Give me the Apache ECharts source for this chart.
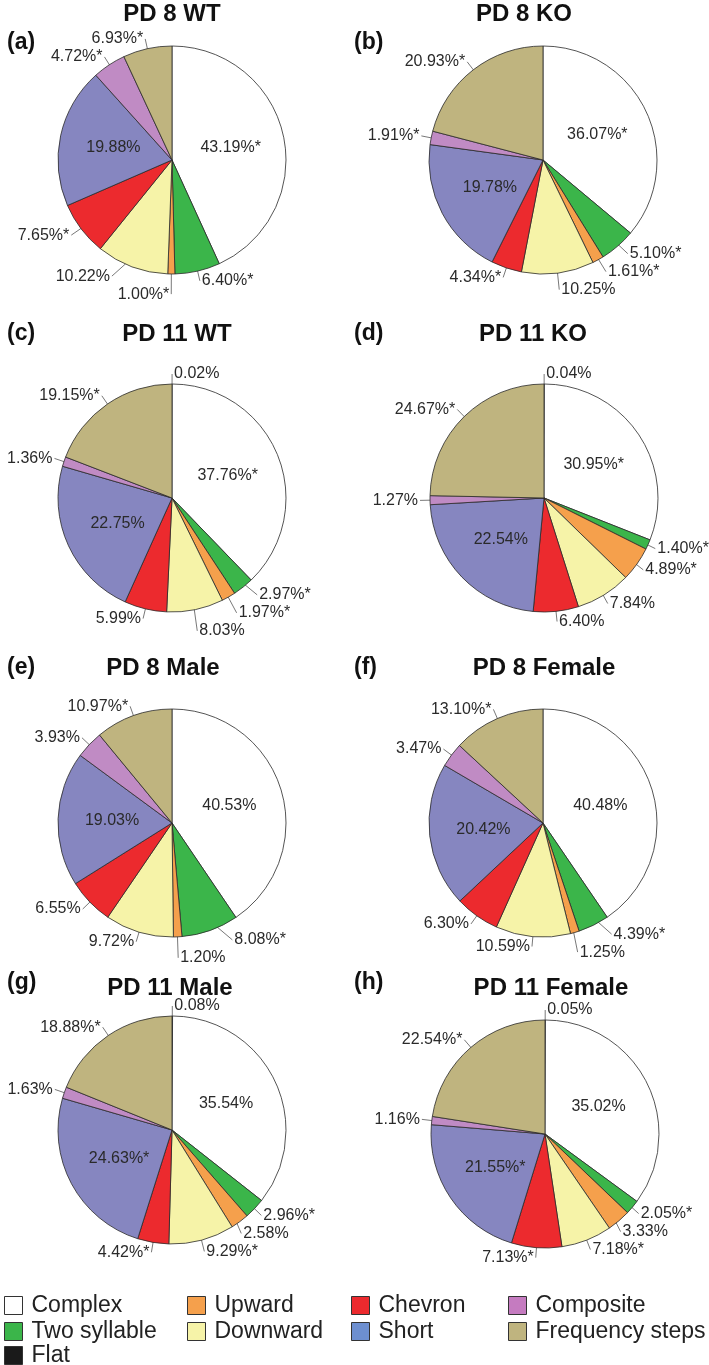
<!DOCTYPE html>
<html><head><meta charset="utf-8">
<script src="https://cdn.jsdelivr.net/npm/echarts@6/dist/echarts.min.js"></script>
<style>html,body{margin:0;padding:0;background:#fff}#c{width:709px;height:1365px}</style>
</head><body><div id="c"></div>
<script>
// ---------- DATA ----------
const categories = ['Complex','Two syllable','Upward','Downward','Chevron','Short','Composite','Frequency steps','Flat'];
const panelTitles = ['PD 8 WT','PD 8 KO','PD 11 WT','PD 11 KO','PD 8 Male','PD 8 Female','PD 11 Male','PD 11 Female'];
const panelLetters = ['(a)','(b)','(c)','(d)','(e)','(f)','(g)','(h)'];

const valuesA = [43.19, 6.40, 1.00, 10.22, 7.65, 19.88, 4.72, 6.93, null];
const valuesB = [36.07, 5.10, 1.61, 10.25, 4.34, 19.78, 1.91, 20.93, null];
const valuesC = [37.76, 2.97, 1.97, 8.03, 5.99, 22.75, 1.36, 19.15, 0.02];
const valuesD = [30.95, 1.40, 4.89, 7.84, 6.40, 22.54, 1.27, 24.67, 0.04];
const valuesE = [40.53, 8.08, 1.20, 9.72, 6.55, 19.03, 3.93, 10.97, null];
const valuesF = [40.48, 4.39, 1.25, 10.59, 6.30, 20.42, 3.47, 13.10, null];
const valuesG = [35.54, 2.96, 2.58, 9.29, 4.42, 24.63, 1.63, 18.88, 0.08];
const valuesH = [35.02, 2.05, 3.33, 7.18, 7.13, 21.55, 1.16, 22.54, 0.05];

// significance marks (*)
const starsA = [1,1,1,0,1,0,1,1,0];
const starsB = [1,1,1,0,1,0,1,1,0];
const starsC = [1,1,1,0,0,0,0,1,0];
const starsD = [1,1,1,0,0,0,0,1,0];
const starsE = [0,1,0,0,0,0,0,1,0];
const starsF = [0,1,0,0,0,0,0,1,0];
const starsG = [0,1,0,1,1,1,0,1,0];
const starsH = [0,1,0,1,1,1,0,1,0];

const allValues = [valuesA,valuesB,valuesC,valuesD,valuesE,valuesF,valuesG,valuesH];
const allStars = [starsA,starsB,starsC,starsD,starsE,starsF,starsG,starsH];

// ---------- STYLE / LAYOUT ----------
const COLORS = ['#ffffff','#3bb54a','#f5a04c','#f6f3a8','#ec2a2e','#8686c0','#c08bc4','#bfb47f','#1a1a1a'];
const LEGEND_COLORS = ['#ffffff','#3bb54a','#f5a04c','#f6f3a8','#ec2a2e','#6d8fd0','#c57bc0','#bfb47f','#1a1a1a'];
const DRAW_ORDER = [8,0,1,2,3,4,5,6,7]; // the hair-thin Flat wedge sits at 12 o'clock
const INSIDE = [0,5];
const FONT = 'Liberation Sans, Arial, Helvetica, sans-serif';
const R = 114, R_IN = 100;
const LAYOUT = [
  {cx:172, cy:160, tx:172, ty:14, lx:7,   ly:43},
  {cx:543, cy:160, tx:524, ty:14, lx:354, ly:43},
  {cx:172, cy:498, tx:177, ty:334, lx:7,  ly:334},
  {cx:544, cy:498, tx:533, ty:334, lx:354, ly:334},
  {cx:172, cy:823, tx:163, ty:668, lx:7,  ly:668},
  {cx:543, cy:823, tx:544, ty:668, lx:354, ly:668},
  {cx:172, cy:1130, tx:170, ty:988, lx:7,  ly:983},
  {cx:545, cy:1134, tx:551, ty:988, lx:354, ly:983}
];

const series = [];
const graphics = [];
allValues.forEach((vals, i) => {
  const L = LAYOUT[i];
  const stars = allStars[i];
  const main = [], over = [];
  DRAW_ORDER.forEach(k => {
    const v = vals[k];
    if (v == null) return;
    const c = categories[k];
    const txt = v.toFixed(2) + '%' + (stars[k] ? '*' : '');
    const inside = INSIDE.includes(k);
    main.push({name: c, value: v, itemStyle: {color: COLORS[k]}, label: {show: inside, formatter: txt}});
    over.push({name: c, value: v, label: {show: !inside, formatter: txt}, labelLine: {show: !inside}});
  });
  series.push({
    type: 'pie', center: [L.cx, L.cy], radius: R, startAngle: 90, clockwise: true,
    data: main, silent: true, animation: false, emphasis: {disabled: true},
    itemStyle: {borderColor: '#2a2a2a', borderWidth: 0.8},
    label: {position: 'inside', color: '#2a2a2a', fontSize: 16, fontFamily: FONT},
    labelLine: {show: false}
  });
  series.push({
    type: 'pie', center: [L.cx, L.cy], radius: R_IN, startAngle: 90, clockwise: true,
    data: over, silent: true, animation: false, emphasis: {disabled: true},
    itemStyle: {color: 'rgba(0,0,0,0)', borderWidth: 0},
    label: {position: 'outside', color: '#2a2a2a', fontSize: 16, fontFamily: FONT,
            distanceToLabelLine: 2, overflow: 'none', edgeDistance: 0},
    labelLine: {length: 24, length2: 0, smooth: false, lineStyle: {color: '#555', width: 0.8}},
    avoidLabelOverlap: true
  });
  graphics.push({type: 'text', x: L.tx, y: L.ty, style: {text: panelTitles[i], font: 'bold 24px ' + FONT, fill: '#111', textAlign: 'center', textVerticalAlign: 'middle'}});
  graphics.push({type: 'text', x: L.lx, y: L.ly, style: {text: panelLetters[i], font: 'bold 23px ' + FONT, fill: '#111', textAlign: 'left', textVerticalAlign: 'middle'}});
});

function legendItems(idx) {
  return idx.map(k => ({name: categories[k], icon: 'rect', itemStyle: {color: LEGEND_COLORS[k], borderColor: '#333', borderWidth: 1}}));
}
// legend blocks: [category indices, left, top]
const legendBlocks = [
  [[0,1], 4, 1294], [[8], 4, 1344],
  [[2,3], 187, 1294], [[4,5], 351, 1294], [[6,7], 508, 1294]
];
const legends = legendBlocks.map(([cols, left, top]) => ({
  data: legendItems(cols), orient: 'vertical', left: left, top: top,
  itemWidth: 18, itemHeight: 18, itemGap: 3, padding: 0, selectedMode: false,
  textStyle: {fontSize: 23, lineHeight: 23, color: '#222', fontFamily: FONT, padding: [0, 0, 0, 4]}
}));

const chart = echarts.init(document.getElementById('c'), null, {renderer: 'canvas'});
chart.setOption({
  backgroundColor: '#fff',
  animation: false,
  legend: legends,
  series: series,
  graphic: graphics
});
</script>
</body></html>
